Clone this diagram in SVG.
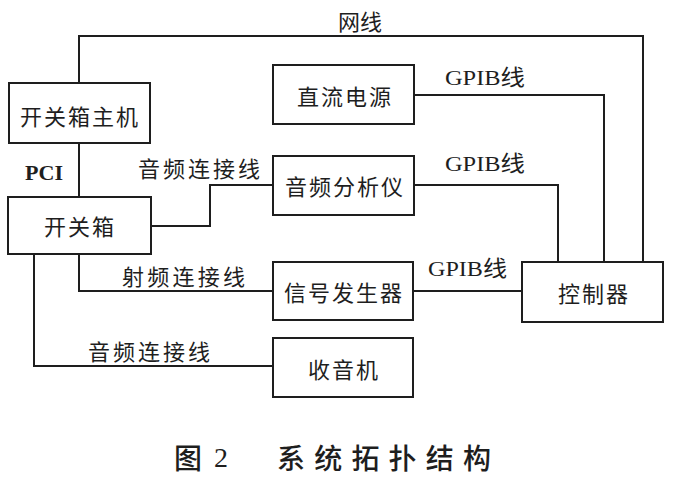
<svg xmlns="http://www.w3.org/2000/svg" width="676" height="477" viewBox="0 0 676 477">
<style>
.box{fill:none;stroke:#1e1e1e;stroke-width:2}
.wire{fill:none;stroke:#1e1e1e;stroke-width:2}
.t{font-family:"Noto Sans CJK SC","Noto Sans",sans-serif;font-size:22px;fill:#1e1e1e;text-anchor:middle;dominant-baseline:central;letter-spacing:2px}
.lt{font-family:"Noto Sans CJK SC","Noto Sans",sans-serif;font-size:22px;fill:#1e1e1e;text-anchor:start;dominant-baseline:central}
.en{font-family:"Liberation Serif","Noto Sans CJK SC",serif;font-size:22px;fill:#1e1e1e;dominant-baseline:central}
.cap{font-family:"Noto Sans CJK SC","Noto Sans",sans-serif;font-size:28px;font-weight:500;fill:#1e1e1e;text-anchor:start;dominant-baseline:central}
</style>
<rect width="676" height="477" fill="#ffffff"/>
<g id="connectors">
<path class="wire" d="M79,83 V36 H643 V262"/>
<path class="wire" d="M79,143 V197"/>
<path class="wire" d="M151,226 H210 V185 H273"/>
<path class="wire" d="M79,254 V291 H273"/>
<path class="wire" d="M34,254 V366 H273"/>
<path class="wire" d="M414,95 H604 V262"/>
<path class="wire" d="M414,185 H558 V262"/>
<path class="wire" d="M413,291 H522"/>
<text class="lt" x="338" y="20">网线</text>
<text class="en" x="445" y="77" textLength="80" lengthAdjust="spacingAndGlyphs">GPIB线</text>
<text class="en" x="445" y="163" textLength="80" lengthAdjust="spacingAndGlyphs">GPIB线</text>
<text class="en" x="428" y="268" textLength="79" lengthAdjust="spacingAndGlyphs">GPIB线</text>
<text class="en" x="25" y="172" textLength="38" lengthAdjust="spacingAndGlyphs" font-weight="bold">PCI</text>
<text class="lt" x="138" y="167" textLength="122">音频连接线</text>
<text class="lt" x="122" y="275" textLength="123">射频连接线</text>
<text class="lt" x="88" y="350" textLength="122">音频连接线</text>
</g>
<g id="kgx-host">
<rect class="box" x="9" y="83" width="141" height="60"/>
<text class="t" x="80" y="115">开关箱主机</text>
</g>
<g id="kgx">
<rect class="box" x="8" y="197" width="143" height="57"/>
<text class="t" x="80" y="225">开关箱</text>
</g>
<g id="dc-power">
<rect class="box" x="273" y="65" width="141" height="59"/>
<text class="t" x="345" y="95">直流电源</text>
</g>
<g id="audio-analyzer">
<rect class="box" x="273" y="156" width="141" height="59"/>
<text class="t" x="345" y="185">音频分析仪</text>
</g>
<g id="signal-gen">
<rect class="box" x="273" y="262" width="140" height="58"/>
<text class="t" x="344" y="291">信号发生器</text>
</g>
<g id="radio">
<rect class="box" x="273" y="338" width="140" height="59"/>
<text class="t" x="344" y="368">收音机</text>
</g>
<g id="controller">
<rect class="box" x="522" y="262" width="141" height="60"/>
<text class="t" x="594" y="292">控制器</text>
</g>
<g id="caption">
<text class="cap" x="174" y="457">图</text>
<text class="en" x="214" y="457" style="font-size:28px">2</text>
<text class="cap" x="277" y="457" textLength="214">系统拓扑结构</text>
</g>
</svg>
